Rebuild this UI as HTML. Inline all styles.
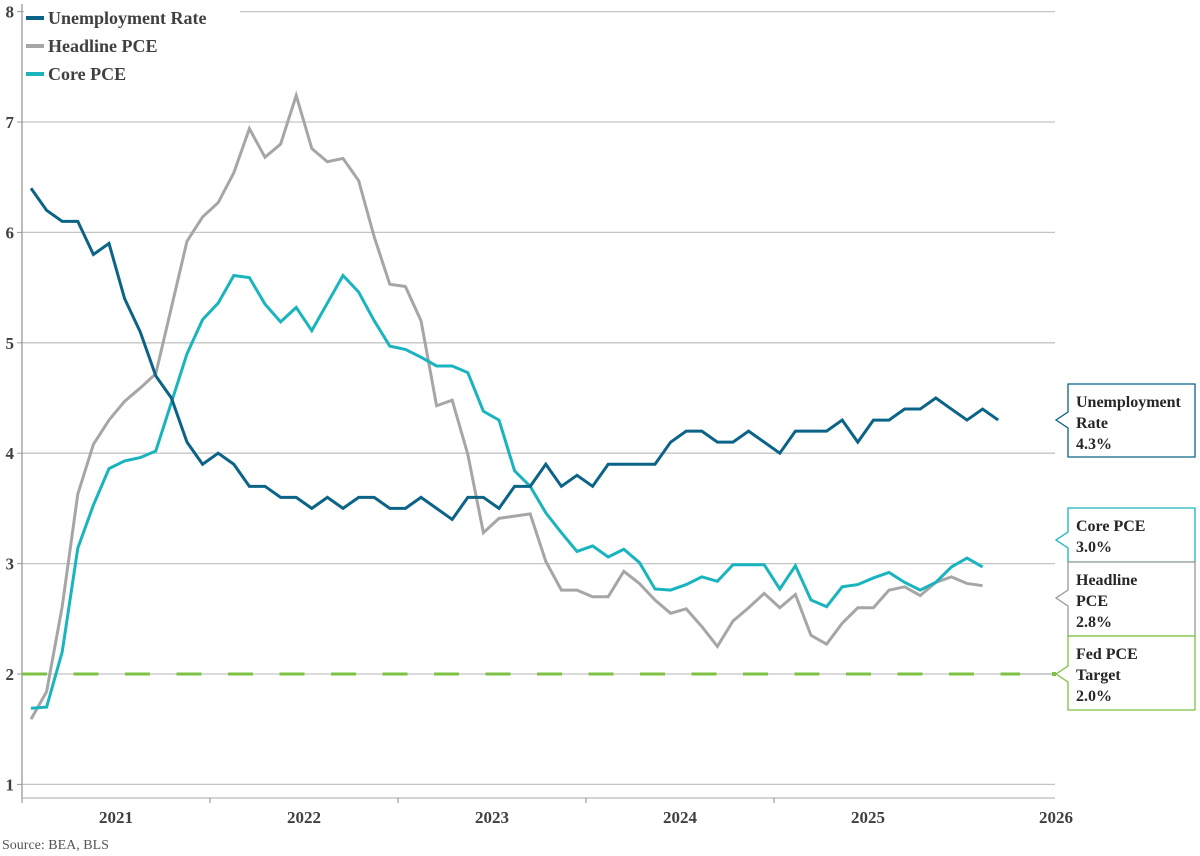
<!DOCTYPE html>
<html><head><meta charset="utf-8">
<style>
html,body{margin:0;padding:0;background:#fff;}
svg{display:block;font-family:"Liberation Serif",serif;}
</style></head>
<body>
<svg id="chart" width="1200" height="856" viewBox="0 0 1200 856" xmlns="http://www.w3.org/2000/svg"></svg>
<script>
const yTicks = [1,2,3,4,5,6,7,8];
const yearLabels = ["2021","2022","2023","2024","2025","2026"];
const unemployment = [6.4,6.2,6.1,6.1,5.8,5.9,5.4,5.1,4.7,4.5,4.1,3.9,4.0,3.9,3.7,3.7,3.6,3.6,3.5,3.6,3.5,3.6,3.6,3.5,3.5,3.6,3.5,3.4,3.6,3.6,3.5,3.7,3.7,3.9,3.7,3.8,3.7,3.9,3.9,3.9,3.9,4.1,4.2,4.2,4.1,4.1,4.2,4.1,4.0,4.2,4.2,4.2,4.3,4.1,4.3,4.3,4.4,4.4,4.5,4.4,4.3,4.4,4.3];
const headline = [1.59,1.84,2.61,3.63,4.08,4.30,4.47,4.59,4.72,5.32,5.92,6.14,6.27,6.54,6.94,6.68,6.80,7.24,6.76,6.64,6.67,6.47,5.96,5.53,5.51,5.20,4.43,4.48,3.99,3.28,3.41,3.43,3.45,3.02,2.76,2.76,2.70,2.70,2.93,2.82,2.67,2.55,2.59,2.43,2.25,2.48,2.60,2.73,2.60,2.72,2.35,2.27,2.46,2.60,2.60,2.76,2.79,2.71,2.83,2.88,2.82,2.80];
const core = [1.69,1.70,2.20,3.14,3.53,3.86,3.93,3.96,4.02,4.46,4.90,5.21,5.36,5.61,5.59,5.35,5.19,5.32,5.11,5.36,5.61,5.46,5.20,4.97,4.94,4.87,4.79,4.79,4.73,4.38,4.30,3.84,3.70,3.46,3.28,3.11,3.16,3.06,3.13,3.01,2.77,2.76,2.81,2.88,2.84,2.99,2.99,2.99,2.77,2.98,2.67,2.61,2.79,2.81,2.87,2.92,2.83,2.76,2.83,2.97,3.05,2.97];
const target = 2.0;

const svg = document.getElementById('chart');
const NS = 'http://www.w3.org/2000/svg';
const L = 22, R = 1055, AXY = 798;
const x = i => 31 + i * 15.6;
const y = v => 674 - (v - 2) * 110.4;
function mk(tag, attrs, parent){
  const e = document.createElementNS(NS, tag);
  for (const k in attrs) e.setAttribute(k, attrs[k]);
  (parent || svg).appendChild(e);
  return e;
}

// gridlines + y labels
yTicks.forEach(t => {
  const g = mk('line', {x1:L, x2:R, y1:y(t), y2:y(t), stroke:'#c4c4c4', 'stroke-width':1.3});
  
  
  mk('line', {x1:L-5, x2:L, y1:y(t), y2:y(t), stroke:'#999', 'stroke-width':1});
  const tx = mk('text', {x:14, y:y(t)+6, 'text-anchor':'end', 'font-size':17, 'font-weight':'bold', fill:'#404040'});
  tx.textContent = t;
  
  
});
// axes
const ya = mk('line', {x1:L, x2:L, y1:4, y2:AXY, stroke:'#999', 'stroke-width':1.3});


const xa = mk('line', {x1:L, x2:R, y1:AXY, y2:AXY, stroke:'#bbb', 'stroke-width':1.3});


yearLabels.forEach((lab, k) => {
  const tx0 = L + 188 * k;
  if (k < 5) mk('line', {x1:tx0, x2:tx0, y1:AXY, y2:AXY+5, stroke:'#888', 'stroke-width':1});
  const t = mk('text', {x:tx0 + 94, y:823, 'text-anchor':'middle', 'font-size':17, 'font-weight':'bold', fill:'#404040'});
  t.textContent = lab;
  
  
});

// target dashed line
const tl = mk('line', {x1:L, x2:1020, y1:y(target), y2:y(target), stroke:'#7dc242', 'stroke-width':3, 'stroke-dasharray':'25 26.5'});



function series(vals, color, name){
  const p = mk('polyline', {points: vals.map((v,i)=>x(i)+','+y(v)).join(' '), fill:'none', stroke:color, 'stroke-width':3, 'stroke-linejoin':'miter'});
  
  
}
series(headline, '#a6a6a6', 'headline-pce-line');
series(core, '#1ab4bf', 'core-pce-line');
series(unemployment, '#0b6488', 'unemployment-line');

// legend
const lg = mk('g', {});


mk('rect', {x:24, y:6, width:216, height:80, fill:'#fff'}, lg);
[['Unemployment Rate','#0b6488',19],['Headline PCE','#a6a6a6',47],['Core PCE','#1ab4bf',75]].forEach(([n,c,yy]) => {
  const e = mk('g', {}, lg);
  
  
  mk('line', {x1:26, x2:44, y1:yy-1, y2:yy-1, stroke:c, 'stroke-width':4}, e);
  const t = mk('text', {x:48, y:yy+5, 'font-size':18, 'font-weight':'bold', fill:'#404040'}, e);
  t.textContent = n;
});

// callouts
function callout(top, h, py, color, lines, name){
  const g = mk('g', {});
  
  
  const bx = 1068, bw = 127;
  mk('path', {d:`M${bx},${top} H${bx+bw} V${top+h} H${bx} V${py+8} L${1056},${py} L${bx},${py-8} Z`, fill:'#fff', stroke:color, 'stroke-width':1.3}, g);
  lines.forEach((s, i) => {
    const t = mk('text', {x:1076, y:top + 23 + i*21, 'font-size':16, 'font-weight':'bold', fill:'#262626'}, g);
    t.textContent = s;
  });
}
callout(384, 73, 420, '#0b6488', ['Unemployment','Rate','4.3%'], 'unemployment-callout');
callout(508, 54, 540, '#1ab4bf', ['Core PCE','3.0%'], 'core-pce-callout');
callout(562, 74, 598, '#999', ['Headline','PCE','2.8%'], 'headline-pce-callout');
callout(636, 74, 674, '#7dc242', ['Fed PCE','Target','2.0%'], 'fed-target-callout');
mk('line', {x1:1020, x2:1056, y1:674, y2:674, stroke:'#aaa', 'stroke-width':1});
mk('rect', {x:1052, y:672, width:4, height:4, fill:'#7dc242'});

const src = mk('text', {x:2, y:849, 'font-size':14, fill:'#555'});
src.textContent = 'Source: BEA, BLS';


</script>
</body></html>
